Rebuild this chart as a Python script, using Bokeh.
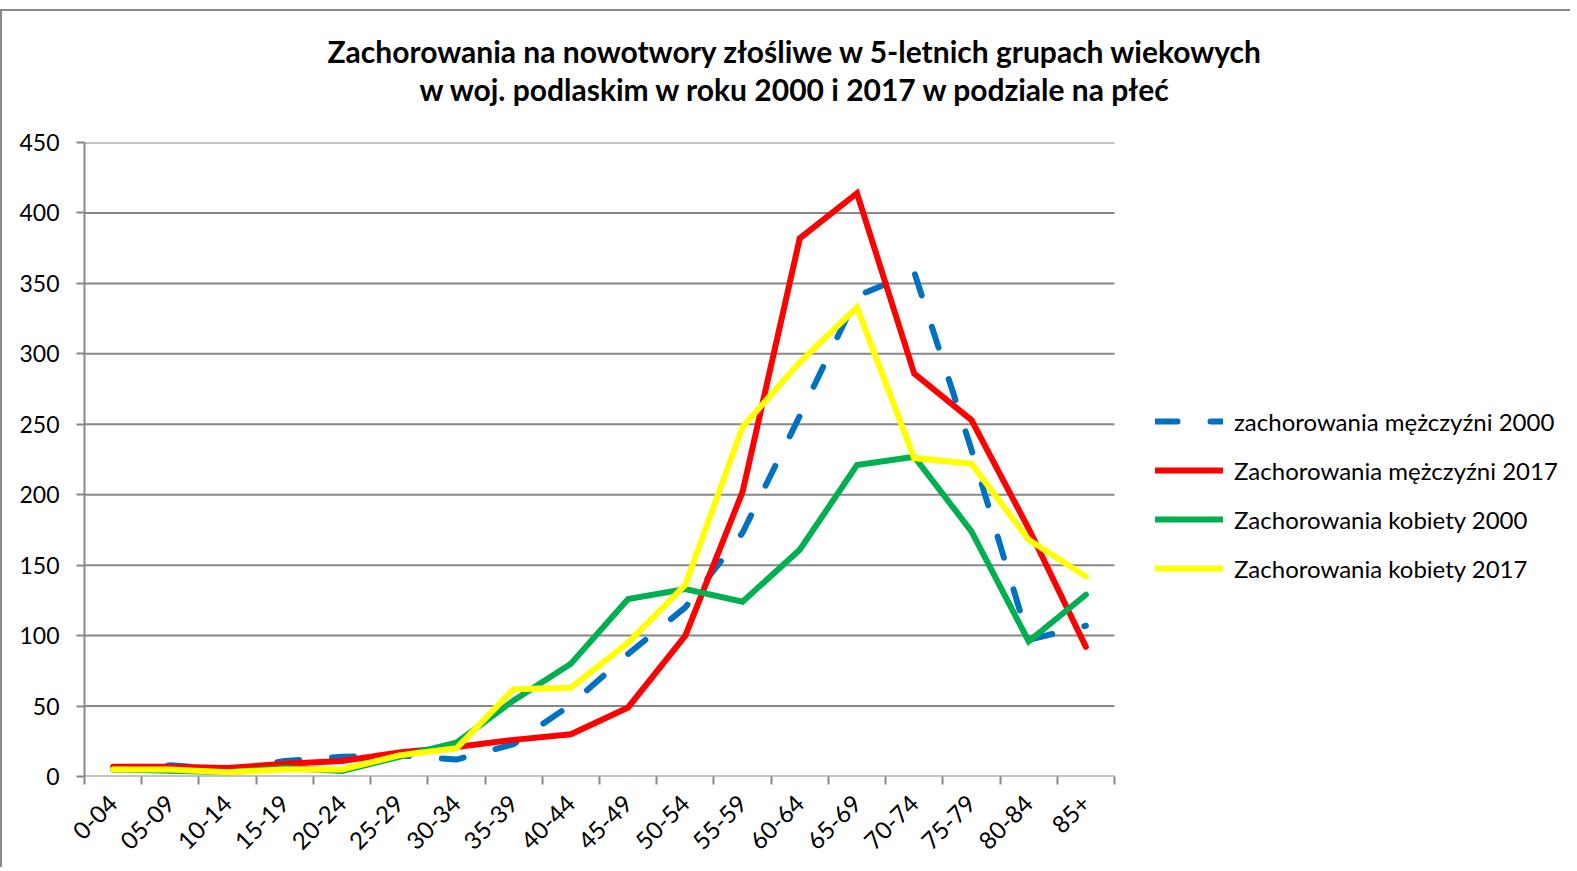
import math
from bokeh.plotting import figure
from bokeh.models import (Range1d, FixedTicker, Legend, LegendItem, Title, ColumnDataSource)
from bokeh.embed import file_html
from bokeh.resources import INLINE

# ---------------- data ----------------
categories = ["0-04", "05-09", "10-14", "15-19", "20-24", "25-29", "30-34", "35-39",
              "40-44", "45-49", "50-54", "55-59", "60-64", "65-69", "70-74", "75-79",
              "80-84", "85+"]
men_2000 = [5, 8, 5, 11, 14, 15, 12, 23, 51, 87, 120, 173, 256, 341, 358, 232, 97, 107]
men_2017 = [7, 7, 6, 9, 11, 17, 21, 26, 30, 49, 100, 202, 382, 414, 286, 253, 176, 92]
women_2000 = [5, 4, 3, 6, 4, 14, 24, 54, 80, 126, 133, 124, 161, 221, 227, 174, 96, 129]
women_2017 = [5, 5, 3, 5, 5, 15, 20, 62, 63, 95, 136, 248, 294, 333, 226, 222, 168, 142]
y_ticks = [0, 50, 100, 150, 200, 250, 300, 350, 400, 450]
series_names = ["zachorowania mężczyźni 2000", "Zachorowania mężczyźni 2017",
                "Zachorowania kobiety 2000", "Zachorowania kobiety 2017"]
title_line1 = "Zachorowania na nowotwory złośliwe w 5-letnich grupach wiekowych"
title_line2 = "w woj. podlaskim w roku 2000 i 2017 w podziale na płeć"

# ---------------- layout ----------------
W, H = 1570, 858
FRAME_L, FRAME_T, FRAME_B = 82, 131, 765
AXIS_R = 1112                 # right end of the category axis (canvas px)
FRAME_R = W - 2               # frame extends under the legend area
FONT = "Lato"
GRID = "#888888"

n = len(categories)
centers = [i + 0.5 for i in range(n)]
bounds = list(range(n + 1))
x_max = n * (FRAME_R - FRAME_L) / (AXIS_R - FRAME_L)

p = figure(width=W, height=H, x_range=Range1d(0, x_max), y_range=Range1d(0, max(y_ticks)),
           output_backend="svg", toolbar_location=None, title=None,
           min_border_left=FRAME_L, min_border_right=W - FRAME_R,
           min_border_top=FRAME_T, min_border_bottom=H - FRAME_B,
           background_fill_color="white", border_fill_color="white")
p.outline_line_color = None
p.styles = {"border-top": "2px solid #898989", "border-left": "2px solid #898989",
            "margin-left": "0px", "margin-top": "9px"}

# axes
xt = FixedTicker(ticks=centers, minor_ticks=bounds)
p.xaxis.ticker = xt
p.xaxis.major_label_overrides = {c: lab for c, lab in zip(centers, categories)}
p.xaxis.major_tick_out = 0
p.xaxis.major_tick_in = 0
p.xaxis.minor_tick_out = 8
p.xaxis.minor_tick_in = 0
p.xaxis.minor_tick_line_color = GRID
p.xaxis.minor_tick_line_width = 2
p.xaxis.major_label_orientation = math.pi / 4
p.xaxis.major_label_standoff = 15
p.xaxis.axis_line_color = None

yt = FixedTicker(ticks=y_ticks, minor_ticks=[])
p.yaxis.ticker = yt
p.yaxis.major_tick_out = 8
p.yaxis.major_tick_in = 0
p.yaxis.minor_tick_out = 0
p.yaxis.minor_tick_in = 0
p.yaxis.major_tick_line_color = GRID
p.yaxis.major_tick_line_width = 2
p.yaxis.major_label_standoff = 17
p.yaxis.axis_line_color = GRID
p.yaxis.axis_line_width = 2

for ax in (p.xaxis, p.yaxis):
    ax.major_label_text_font = FONT
    ax.major_label_text_color = "black"
p.yaxis.major_label_text_font_size = "23px"
p.xaxis.major_label_text_font_size = "24px"

# horizontal gridlines only across the category span
p.xgrid.visible = False
p.ygrid.visible = False
p.segment(x0=[0] * len(y_ticks), x1=[n] * len(y_ticks), y0=y_ticks, y1=y_ticks,
          line_color=GRID, line_width=2)

# lines
src = ColumnDataSource(dict(x=centers, m00=men_2000, m17=men_2017, k00=women_2000, k17=women_2017))
LW = 6
r1 = p.line("x", "m00", source=src, line_color="#0070C0", line_width=LW,
            line_dash="22 33", line_cap="round", line_join="round")
r2 = p.line("x", "m17", source=src, line_color="#FF0000", line_width=LW,
            line_cap="round", line_join="miter")
r3 = p.line("x", "k00", source=src, line_color="#00B050", line_width=LW,
            line_cap="round", line_join="miter")
r4 = p.line("x", "k17", source=src, line_color="#FFFF00", line_width=LW,
            line_cap="round", line_join="miter")

legend = Legend(items=[LegendItem(label=nm, renderers=[r]) for nm, r in
                       zip(series_names, [r1, r2, r3, r4])],
                location=(1153 - FRAME_L, FRAME_B - 572),
                padding=0, margin=0, spacing=19, glyph_width=68, glyph_height=30,
                label_height=30, label_standoff=11, label_text_font=FONT,
                label_text_font_size="24px", label_text_color="black",
                border_line_color=None, background_fill_alpha=0)
p.add_layout(legend)

# titles: a spacer nearest the frame, then line 2, then line 1
spacer = Title(text=" ", text_font=FONT, text_font_size="10px", standoff=22)
t2 = Title(text=title_line2, align="left", text_font=FONT, text_font_size="30px",
           text_font_style="bold", text_color="black", offset=417 - FRAME_L, standoff=0)
t1 = Title(text=title_line1, align="left", text_font=FONT, text_font_size="30px",
           text_font_style="bold", text_color="black", offset=325 - FRAME_L, standoff=0)
p.add_layout(spacer, "above")
p.add_layout(t2, "above")
p.add_layout(t1, "above")

open("out.html", "w").write(file_html(p, INLINE))
